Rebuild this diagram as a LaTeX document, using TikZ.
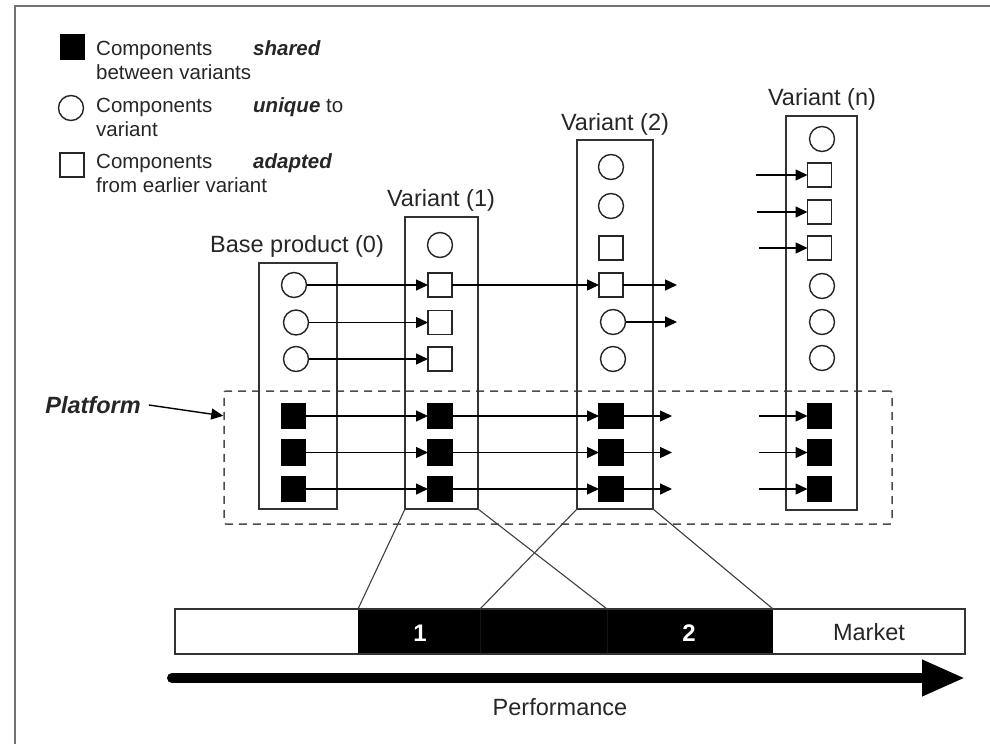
\documentclass[tikz,border=0pt]{standalone}
\usepackage{fontspec}
\setmainfont{Liberation Sans}
\usetikzlibrary{arrows.meta,calc}
\tikzset{
  shared/.style={rectangle, draw=black, fill=black, line width=1.2pt, minimum width=24pt, minimum height=25pt, inner sep=0pt, outer sep=0pt},
  uniq/.style={circle, draw=black!85, fill=white, line width=1.4pt, minimum size=25pt, inner sep=0pt, outer sep=0pt},
  adapt/.style={rectangle, draw=black!85, fill=white, line width=1.4pt, minimum size=24pt, inner sep=0pt, outer sep=0pt},
  column/.style={rectangle, draw=black!80, line width=1.4pt, inner sep=0pt, outer sep=0pt},
  flow/.style={draw=black, line width=1.4pt, -{Triangle[length=12pt,width=11pt]}},
  lab/.style={font=\fontsize{23.5}{28}\selectfont, text=black!85, anchor=base, inner sep=0pt},
  leg/.style={font=\fontsize{20.5}{24}\selectfont, text=black!85, anchor=base west, inner sep=0pt},
  legbi/.style={font=\fontsize{20.5}{24}\selectfont\bfseries\itshape, text=black!85, anchor=base west, inner sep=0pt},
  link/.style={draw=black!75, line width=1.1pt},
  barnum/.style={font=\fontsize{24}{28}\selectfont\bfseries, text=white, anchor=base, inner sep=0pt},
}
\begin{document}
\begin{tikzpicture}[x=1pt,y=-1pt]
\useasboundingbox (0,0) rectangle (990,744);
% outer frame
\draw[black!55, line width=2pt] (15,744) -- (15,6) -- (990,6);

% legend
\node[shared] (lg1) at (72.5,47) {};
\node[uniq] (lg2) at (71,108) {};
\node[adapt] (lg3) at (72,165) {};
\node[leg] (lt1a) at (96,55) {Components};
\node[legbi] (lt1b) at (253,55) {shared};
\node[leg] (lt1c) at (96,79) {between variants};
\node[leg] (lt2a) at (96,112) {Components};
\node[leg] (lt2b) at (253,112) {\textbf{\textit{unique}} to};
\node[leg] (lt2c) at (96,136) {variant};
\node[leg] (lt3a) at (96,168) {Components};
\node[legbi] (lt3b) at (253,168) {adapted};
\node[leg] (lt3c) at (96,192) {from earlier variant};

% platform
\node[draw=black!70, line width=1.5pt, dash pattern=on 8pt off 6pt, rounded corners=2pt,
      minimum width=668pt, minimum height=133pt, inner sep=0pt] (platform) at (558,457.5) {};
\node[font=\fontsize{23.5}{28}\selectfont\bfseries\itshape, text=black!85, inner sep=0pt] (plat) at (93,405) {Platform};
\coordinate (platin) at ($(platform.north west)!0.19!(platform.south west)$);
\draw[flow] ([xshift=8pt]plat.east) -- (platin);

% columns
\node[column, minimum width=78pt, minimum height=246pt] (base) at (298,386) {};
\node[column, minimum width=73pt, minimum height=292pt] (v1) at (441.5,363) {};
\node[column, minimum width=76pt, minimum height=369pt] (v2) at (615,324.5) {};
\node[column, minimum width=71pt, minimum height=394pt] (vn) at (821.5,313) {};

\node[lab] (tbase) at (297,252) {Base product (0)};
\node[lab] (tv1) at (441,206) {Variant (1)};
\node[lab] (tv2) at (615,130) {Variant (2)};
\node[lab] (tvn) at (822,105) {Variant (n)};

% base product components
\node[uniq] (b1) at (294,285) {};
\node[uniq] (b2) at (296,322.5) {};
\node[uniq] (b3) at (296,359) {};
\node[shared] (bs1) at (293.5,416) {};
\node[shared] (bs2) at (293.5,452.5) {};
\node[shared] (bs3) at (293.5,489) {};

% variant 1
\node[uniq] (v1c) at (440,245) {};
\node[adapt] (v1a1) at (440,285) {};
\node[adapt] (v1a2) at (440,322.5) {};
\node[adapt] (v1a3) at (440,359) {};
\node[shared] (v1s1) at (440,416) {};
\node[shared] (v1s2) at (440,452.5) {};
\node[shared] (v1s3) at (440,489) {};

% variant 2
\node[uniq] (v2c1) at (611,167) {};
\node[uniq] (v2c2) at (611,206) {};
\node[adapt] (v2a1) at (611,248) {};
\node[adapt] (v2a2) at (611,285) {};
\node[uniq] (v2c3) at (613,322) {};
\node[uniq] (v2c4) at (613,359) {};
\node[shared] (v2s1) at (611,416) {};
\node[shared] (v2s2) at (611,452.5) {};
\node[shared] (v2s3) at (611,489) {};

% variant n
\node[uniq] (vnc1) at (822,139) {};
\node[adapt] (vna1) at (819.5,175) {};
\node[adapt] (vna2) at (819.5,212) {};
\node[adapt] (vna3) at (819.5,248) {};
\node[uniq] (vnc2) at (822,286) {};
\node[uniq] (vnc3) at (822,322) {};
\node[uniq] (vnc4) at (822,358) {};
\node[shared] (vns1) at (819.5,416) {};
\node[shared] (vns2) at (819.5,452.5) {};
\node[shared] (vns3) at (819.5,489) {};

% free ends
\coordinate (o1) at (677,285);
\coordinate (o2) at (677,322);
\coordinate (o3) at (672,416);
\coordinate (o4) at (672,452.5);
\coordinate (o5) at (672,489);
\coordinate (i1) at (756,175);
\coordinate (i2) at (757,212);
\coordinate (i3) at (759,248);
\coordinate (i4) at (759,416);
\coordinate (i5) at (759,452.5);
\coordinate (i6) at (759,489);

% arrows
\draw[flow] (b1) -- (v1a1);
\draw[flow] (b2) -- (v1a2);
\draw[flow] (b3) -- (v1a3);
\draw[flow] (bs1) -- (v1s1);
\draw[flow] (bs2) -- (v1s2);
\draw[flow] (bs3) -- (v1s3);
\draw[flow] (v1a1) -- (v2a2);
\draw[flow] (v1s1) -- (v2s1);
\draw[flow] (v1s2) -- (v2s2);
\draw[flow] (v1s3) -- (v2s3);
\draw[flow] (v2a2) -- (o1);
\draw[flow] (v2c3) -- (o2);
\draw[flow] (v2s1) -- (o3);
\draw[flow] (v2s2) -- (o4);
\draw[flow] (v2s3) -- (o5);
\draw[flow] (i1) -- (vna1);
\draw[flow] (i2) -- (vna2);
\draw[flow] (i3) -- (vna3);
\draw[flow] (i4) -- (vns1);
\draw[flow] (i5) -- (vns2);
\draw[flow] (i6) -- (vns3);

% market bar
\fill[black] (358,609) rectangle (773,654);
\node[rectangle, draw=black!80, line width=1.4pt, minimum width=790pt, minimum height=45pt, inner sep=0pt] (bar) at (570,631.5) {};
\draw[black!92, line width=0.4pt] (480,610) -- (480,653);
\draw[black!92, line width=0.4pt] (607,610) -- (607,653);
\coordinate (m1) at (358,609);
\coordinate (m2) at (480,609);
\coordinate (m3) at (607,609);
\coordinate (m4) at (773,609);
\draw[link] (v1.south west) -- (m1);
\draw[link] (v2.south west) -- (m2);
\draw[link] (v1.south east) -- (m3);
\draw[link] (v2.south east) -- (m4);
\node[barnum] (n1) at (420,641) {1};
\node[barnum] (n2) at (689,641) {2};
\node[lab] (mkt) at (869,640) {Market};

% performance arrow
\coordinate (pa) at (172,678);
\coordinate (pb) at (965,678);
\draw[black, line width=10pt, line cap=round, -{Triangle[length=43pt,width=34pt]}] (pa) -- (pb);
\node[lab] (perf) at (560,715) {Performance};
\end{tikzpicture}
\end{document}
